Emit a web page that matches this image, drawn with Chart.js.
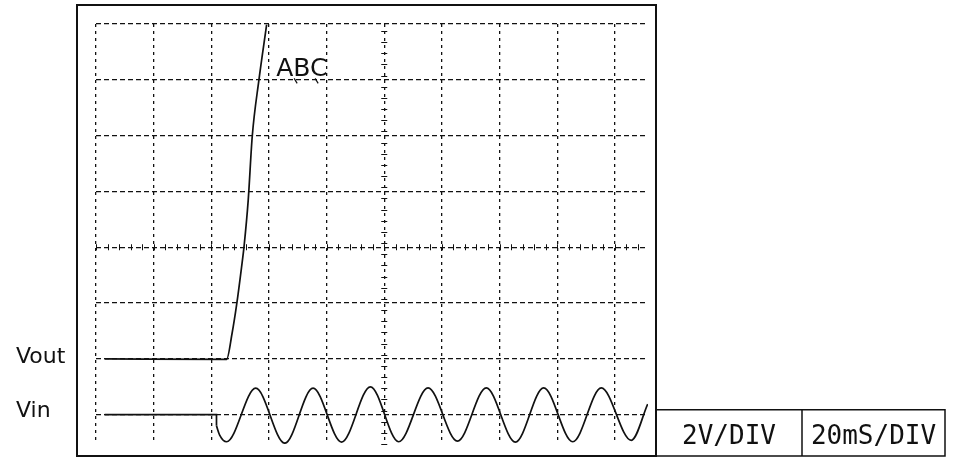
<!DOCTYPE html>
<html>
<head>
<meta charset="utf-8">
<script src="https://cdn.jsdelivr.net/npm/chart.js@4"></script>
<style>
  html, body { margin: 0; padding: 0; background: #ffffff; }
  canvas { display: block; }
</style>
</head>
<body>
<canvas id="scope" width="953" height="459"></canvas>
<script>
// ---- data (time in ms, level in V as displayed) ----
const timeTicks = [0, 20, 40, 60, 80, 100, 120, 140, 160, 180];
const voltTicks = [-6, -4, -2, 0, 2, 4, 6, 8];

const voutTime = [3, 45.3, 47.2, 48.8, 50.5, 51.4, 52.8, 54.2, 56.5, 59.2];
const voutVolt = [-4, -4.02, -3.09, -2.05, -0.71, 0.07, 1.68, 3.97, 5.98, 7.98];

const vinIdleTime = [3, 41.8, 41.8];
const vinIdleVolt = [-6, -6, -6.4];

const vinWaveTime = [41.8, 42.9, 45.3, 55.4, 65.5, 75.3, 85.2, 95.2, 105.0, 115.2, 125.4, 135.4,
                     145.5, 155.3, 165.4, 175.3, 185.7, 191.4];
const vinWaveVolt = [-6.4, -6.73, -6.97, -5.05, -7.02, -5.05, -6.98, -5.0, -6.97, -5.04, -6.95, -5.04,
                     -6.98, -5.04, -6.97, -5.04, -6.92, -5.62];

const traceLabels = ['Vout', 'Vin'];
const traceLabelLevels = [-4, -6];
const markerText = 'ABC';
const scaleTexts = ['2V/DIV', '20mS/DIV'];

function pts(xs, ys) { return xs.map((x, i) => ({ x: x, y: ys[i] })); }

const decor = {
  id: 'decor',
  afterDraw(chart) {
    const ctx = chart.ctx;
    const a = chart.chartArea;
    const xs = chart.scales.x, ys = chart.scales.y;
    ctx.save();
    ctx.strokeStyle = '#111';
    ctx.fillStyle = '#111';

    // centre graticule minor ticks
    ctx.lineWidth = 1;
    const y0 = ys.getPixelForValue(0);
    for (let t = 0; t <= xs.max; t += 4) {
      const px = Math.round(xs.getPixelForValue(t)) + 0.5;
      ctx.beginPath(); ctx.moveTo(px, y0 - 3); ctx.lineTo(px, y0 + 3); ctx.stroke();
    }
    const xc = xs.getPixelForValue(100);
    for (let v = ys.min; v <= ys.max; v += 0.4) {
      const py = Math.round(ys.getPixelForValue(v)) + 0.5;
      ctx.beginPath(); ctx.moveTo(xc - 3, py); ctx.lineTo(xc + 3, py); ctx.stroke();
    }

    // outer frame
    const fl = a.left - 19, ft = a.top - 19, fr = a.right + 8, fb = chart.height - 3;
    ctx.lineWidth = 2;
    ctx.strokeRect(fl, ft, fr - fl, fb - ft);

    // scale boxes
    const bt = ys.getPixelForValue(-6) - 5, bm = fr + 146, br = chart.width - 8;
    ctx.lineWidth = 1.5;
    ctx.beginPath();
    ctx.moveTo(fr, bt); ctx.lineTo(br, bt); ctx.lineTo(br, fb); ctx.lineTo(fr, fb);
    ctx.moveTo(bm, bt); ctx.lineTo(bm, fb);
    ctx.stroke();
    ctx.font = '26px "DejaVu Sans Mono"';
    ctx.textAlign = 'center';
    ctx.textBaseline = 'alphabetic';
    ctx.fillText(scaleTexts[0], (fr + bm) / 2, fb - 12);
    ctx.fillText(scaleTexts[1], (bm + br) / 2, fb - 12);

    // trace labels
    ctx.font = '22px "DejaVu Sans"';
    ctx.textAlign = 'left';
    ctx.fillText(traceLabels[0], 16, ys.getPixelForValue(traceLabelLevels[0]) + 4);
    ctx.fillText(traceLabels[1], 16, ys.getPixelForValue(traceLabelLevels[1]) + 2);

    // marker text
    ctx.font = '25px "DejaVu Sans"';
    const mx = xs.getPixelForValue(62.5), my = ys.getPixelForValue(7.7) + 44;
    ctx.fillText(markerText, mx, my);
    ctx.lineWidth = 1.2;
    ctx.beginPath();
    ctx.moveTo(mx + 18, my + 2); ctx.lineTo(mx + 21, my + 7);
    ctx.moveTo(mx + 39, my + 2); ctx.lineTo(mx + 42, my + 7);
    ctx.stroke();
    ctx.restore();
  }
};

new Chart(document.getElementById('scope'), {
  type: 'line',
  data: {
    datasets: [
      { label: 'Vout', data: pts(voutTime, voutVolt), cubicInterpolationMode: 'monotone' },
      { label: 'Vin idle', data: pts(vinIdleTime, vinIdleVolt), tension: 0 },
      { label: 'Vin', data: pts(vinWaveTime, vinWaveVolt), cubicInterpolationMode: 'monotone' }
    ]
  },
  options: {
    responsive: false,
    animation: false,
    events: [],
    layout: { padding: { left: 96, right: 305, top: 24, bottom: 15 } },
    elements: {
      point: { radius: 0 },
      line: { borderColor: '#111', borderWidth: 1.7, fill: false }
    },
    plugins: { legend: { display: false }, tooltip: { enabled: false } },
    scales: {
      x: {
        type: 'linear', min: 0, max: 191.5,
        afterBuildTicks: (axis) => { axis.ticks = timeTicks.map(v => ({ value: v })); },
        ticks: { display: false },
        grid: { color: '#111', lineWidth: 1.3, drawTicks: false },
        border: { display: false, dash: [3, 4] }
      },
      y: {
        type: 'linear', min: -7.05, max: 8,
        afterBuildTicks: (axis) => { axis.ticks = voltTicks.map(v => ({ value: v })); },
        ticks: { display: false },
        grid: { color: '#111', lineWidth: 1.3, drawTicks: false },
        border: { display: false, dash: [5, 3] }
      }
    }
  },
  plugins: [decor]
});
</script>
</body>
</html>
